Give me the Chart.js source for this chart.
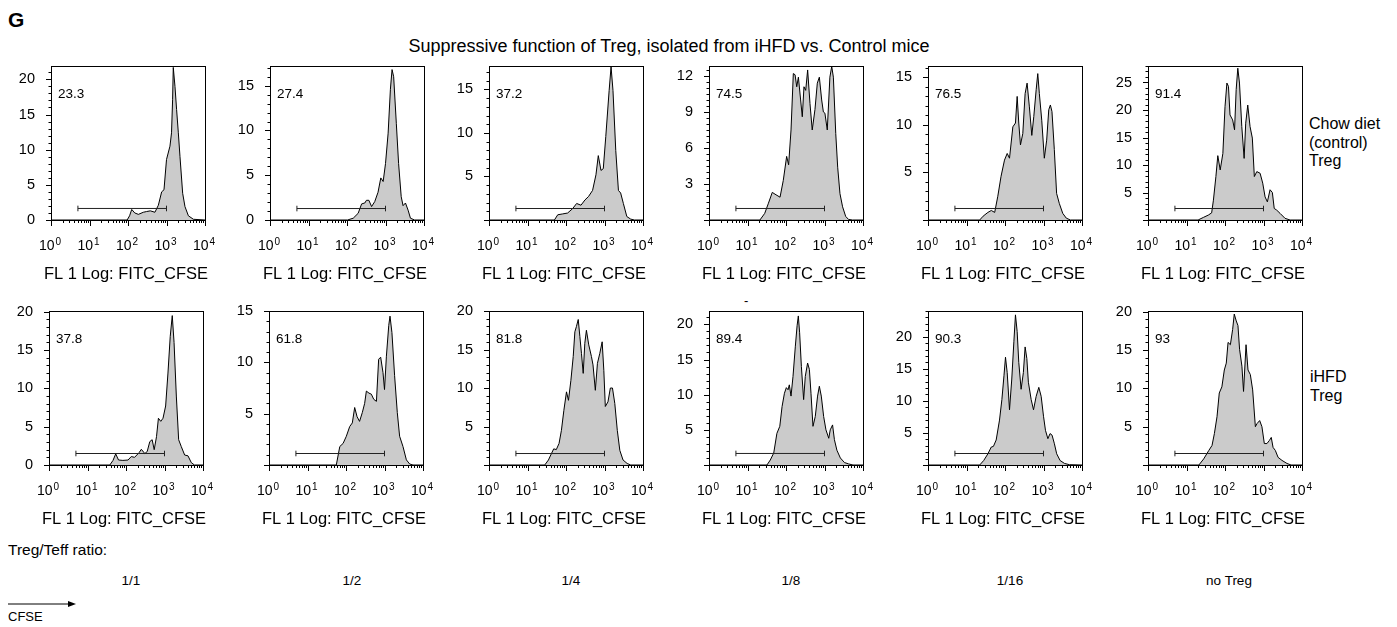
<!DOCTYPE html>
<html>
<head>
<meta charset="utf-8">
<script src="https://cdn.jsdelivr.net/npm/chart.js@4.4.1/dist/chart.umd.min.js"></script>
<style>
body { margin: 0; background: #fff; width: 1397px; height: 627px; position: relative; overflow: hidden;
       font-family: "Liberation Sans", Arial, sans-serif; color: #000; }
.t { position: absolute; white-space: nowrap; }
.c { transform: translateX(-50%); }
canvas { position: absolute; }
</style>
</head>
<body>
<div class="t" style="left:8px;top:8px;font-size:21px;font-weight:bold">G</div>
<div class="t" style="left:0;width:1338px;text-align:center;top:36px;font-size:18px">Suppressive function of Treg, isolated from iHFD vs. Control mice</div>
<div class="t" style="left:1309px;top:115px;font-size:16px;line-height:18.5px">Chow diet<br>(control)<br>Treg</div>
<div class="t" style="left:1310px;top:368px;font-size:16px;line-height:18.5px">iHFD<br>Treg</div>
<div class="t" style="left:744px;top:293px;font-size:13px">-</div>
<div class="t" style="left:8px;top:541px;font-size:15.5px">Treg/Teff ratio:</div>
<div id="ratios"></div>
<svg style="position:absolute;left:8px;top:598px" width="72" height="12">
  <line x1="0" y1="6" x2="62" y2="6" stroke="#000" stroke-width="1"/>
  <polygon points="60,3 68,6 60,9" fill="#000"/>
</svg>
<div class="t" style="left:8px;top:609px;font-size:13px">CFSE</div>

<script>
// Treg/Teff ratio columns
const ratios = ['1/1', '1/2', '1/4', '1/8', '1/16', 'no Treg'];

// % of divided cells in gate
const chowPct = ['23.3', '27.4', '37.2', '74.5', '76.5', '91.4'];
const hfdPct = ['37.8', '61.8', '81.8', '89.4', '90.3', '93'];

// y axis range (count) and major step
const chowYMax = [21.9, 17.2, 17.7, 12.83, 16.2, 28.0];
const hfdYMax = [20.1, 15.0, 20.0, 21.9, 24.0, 20.1];
const chowYStep = [5, 5, 5, 3, 5, 5];
const hfdYStep = [5, 5, 5, 5, 5, 5];
const chowZeroLabel = [true, true, false, false, false, false];
const hfdZeroLabel = [true, false, false, false, false, false];

// gate (horizontal marker) from 5 to 1000
const gateX = [5, 1000];
const chowGateY = [1.64, 1.28, 1.32, 0.96, 1.21, 2.09];
const hfdGateY = [1.5, 1.12, 1.49, 1.64, 1.79, 1.5];

// x axis ticks (log)
const xMajorTicks = [1, 10, 100, 1000, 10000];
const xTickExp = ['0', '1', '2', '3', '4'];
const xTitle = 'FL 1 Log: FITC_CFSE';

// ---- Chow diet Treg histograms ----
const chow11x = [1, 95, 110, 125, 150, 186, 250, 303, 380, 500, 615, 748, 861, 1000, 1230, 1350, 1440, 1500, 1660, 1830, 2030, 2240, 2630, 3020, 3700, 5000, 10000];
const chow11y = [0, 0, 0.6, 1.5, 1.0, 0.8, 1.1, 1.2, 1.3, 1.1, 2.1, 4.0, 4.3, 8.6, 10.5, 12.4, 17.1, 21.7, 19.0, 15.7, 12.4, 9.0, 3.8, 1.9, 0.6, 0.1, 0];
const chow12x = [1, 103, 145, 195, 240, 290, 320, 370, 435, 525, 640, 755, 870, 1000, 1170, 1340, 1480, 1630, 1910, 2190, 2560, 2860, 3300, 3860, 4450, 5700, 10000];
const chow12y = [0, 0, 0.2, 0.75, 1.8, 1.9, 2.2, 2.2, 1.5, 2.05, 3.1, 4.7, 4.3, 6.3, 9.7, 14.6, 16.8, 16.0, 10.8, 6.3, 2.6, 1.6, 1.9, 1.1, 0.2, 0, 0];
const chow14x = [1, 50, 61, 82, 110, 148, 189, 245, 310, 385, 490, 600, 690, 810, 930, 1080, 1320, 1480, 1660, 1960, 2300, 2630, 3090, 3800, 4800, 6000, 10000];
const chow14y = [0, 0, 0.6, 0.7, 0.8, 1.3, 1.9, 1.7, 2.3, 2.7, 3.4, 5.2, 7.4, 5.7, 5.9, 9.6, 14.9, 17.6, 14.9, 8.0, 3.4, 3.1, 1.9, 0.4, 0.1, 0, 0];
const chow18x = [1, 21, 28, 35, 44, 55, 70, 85, 104, 117, 135, 155, 172, 190, 210, 240, 265, 293, 325, 365, 420, 480, 565, 650, 735, 845, 935, 1025, 1180, 1380, 1540, 1700, 1960, 2200, 2520, 2950, 3550, 4200, 5300, 10000];
const chow18y = [0, 0, 0.55, 1.4, 2.3, 2.1, 1.9, 3.3, 5.3, 4.6, 7.5, 12.2, 12.1, 11.1, 11.9, 10.0, 8.6, 11.1, 10.8, 12.5, 9.7, 7.5, 9.2, 11.4, 11.9, 10.0, 9.0, 8.9, 7.5, 11.9, 12.8, 11.9, 7.2, 4.4, 2.2, 1.1, 0.3, 0.05, 0, 0];
const chow116x = [1, 22, 27, 36, 44, 54, 65, 79, 97, 114, 131, 160, 187, 207, 228, 252, 290, 333, 375, 430, 497, 560, 645, 710, 780, 900, 1050, 1210, 1370, 1510, 1660, 1910, 2190, 2570, 3160, 3900, 5000, 10000];
const chow116y = [0, 0, 0.4, 0.8, 1.0, 0.8, 2.5, 4.6, 6.3, 7.0, 6.5, 9.8, 10.2, 13.0, 10.2, 7.9, 9.1, 13.3, 14.4, 11.9, 8.9, 10.9, 13.7, 15.4, 13.3, 10.5, 6.5, 8.4, 11.6, 12.1, 11.4, 7.4, 2.8, 1.75, 0.7, 0.2, 0, 0];
const chowNoX = [1, 20, 28, 37, 45, 50, 58, 65, 75, 88, 100, 112, 123, 135, 158, 177, 195, 215, 238, 273, 314, 345, 390, 447, 513, 578, 670, 815, 955, 1100, 1260, 1480, 1700, 1900, 2200, 2700, 3630, 4900, 10000];
const chowNoY = [0, 0, 0.5, 0.9, 1.3, 3.6, 7.9, 11.7, 9.1, 12.1, 20.6, 24.9, 24.3, 19.1, 18.2, 16.4, 23.7, 27.6, 24.9, 17.0, 11.2, 17.6, 20.9, 17.0, 14.9, 7.9, 8.8, 8.5, 6.7, 4.2, 3.3, 5.5, 5.0, 2.1, 1.8, 1.2, 0.3, 0, 0];

// ---- iHFD Treg histograms ----
const hfd11x = [1, 38, 46, 54, 64, 83, 113, 137, 167, 218, 250, 308, 355, 415, 478, 540, 620, 695, 800, 915, 1070, 1230, 1410, 1590, 1770, 2030, 2330, 2730, 3340, 4070, 4980, 6000, 10000];
const hfd11y = [0, 0, 0.6, 1.45, 0.65, 0.6, 0.65, 1.1, 1.0, 1.6, 2.05, 1.5, 1.75, 3.05, 3.3, 2.0, 3.7, 6.1, 5.7, 6.1, 7.7, 12.0, 16.8, 19.5, 16.0, 9.0, 3.3, 2.4, 1.3, 1.2, 0.3, 0, 0];
const hfd12x = [1, 56, 69, 84, 102, 125, 146, 168, 194, 225, 265, 305, 338, 395, 455, 525, 617, 705, 795, 915, 1000, 1120, 1290, 1390, 1560, 1830, 2150, 2470, 3020, 3700, 4500, 5500, 10000];
const hfd12y = [0, 0, 1.8, 2.1, 2.8, 3.75, 4.1, 5.6, 4.7, 4.25, 5.1, 6.0, 7.2, 7.0, 6.9, 6.4, 6.2, 10.3, 10.5, 9.0, 7.35, 10.6, 13.6, 14.5, 12.9, 8.7, 5.1, 2.8, 1.8, 0.5, 0.1, 0, 0];
const hfd14x = [1, 28, 35, 42, 48, 56, 66, 76, 88, 103, 116, 134, 154, 170, 187, 208, 229, 252, 280, 308, 339, 390, 457, 503, 578, 655, 755, 870, 960, 1050, 1230, 1420, 1610, 1850, 2150, 2500, 3030, 3870, 4800, 10000];
const hfd14y = [0, 0, 0.65, 1.5, 2.1, 2.0, 2.8, 4.5, 7.1, 9.5, 8.4, 11.0, 14.1, 17.3, 18.0, 18.9, 16.7, 14.5, 11.9, 15.8, 17.5, 15.6, 14.1, 13.0, 9.7, 13.2, 14.5, 16.0, 12.3, 7.6, 8.2, 10.0, 10.0, 8.0, 4.5, 1.9, 0.65, 0.2, 0, 0];
const hfd18x = [1, 32, 39, 48, 58, 69, 79, 91, 102, 113, 122, 135, 152, 175, 194, 209, 226, 251, 287, 317, 364, 405, 446, 502, 576, 661, 735, 825, 950, 1090, 1290, 1410, 1620, 1810, 2100, 2580, 3300, 4250, 5500, 10000];
const hfd18y = [0, 0, 0.7, 1.7, 4.5, 5.5, 8.3, 10.2, 11.0, 10.7, 11.4, 9.8, 12.6, 16.9, 19.8, 21.2, 18.8, 14.0, 9.3, 12.6, 14.5, 13.6, 10.2, 5.5, 6.9, 9.8, 11.2, 9.8, 6.9, 5.0, 3.8, 5.0, 5.7, 3.6, 2.1, 1.0, 0.35, 0.15, 0, 0];
const hfd116x = [1, 22, 28, 36, 44, 50, 59, 72, 83, 94, 103, 114, 131, 150, 170, 187, 207, 228, 262, 300, 333, 369, 405, 478, 550, 645, 755, 870, 1000, 1125, 1300, 1480, 1670, 1920, 2200, 2700, 3500, 4700, 10000];
const hfd116y = [0, 0, 0.7, 1.75, 2.8, 2.9, 3.9, 7.0, 10.2, 13.9, 16.8, 14.4, 8.6, 13.4, 19.2, 23.4, 20.8, 16.0, 11.8, 14.4, 18.4, 16.6, 12.9, 10.2, 8.6, 10.7, 12.1, 10.7, 7.6, 5.4, 4.1, 4.9, 4.65, 3.3, 1.75, 0.7, 0.25, 0.05, 0];
const hfdNoX = [1, 21, 28, 38, 46, 53, 62, 71, 83, 96, 108, 120, 138, 158, 174, 196, 217, 239, 275, 303, 352, 396, 455, 523, 615, 678, 795, 910, 1050, 1230, 1420, 1590, 1770, 2030, 2390, 3020, 4070, 5200, 10000];
const hfdNoY = [0, 0, 0.8, 1.9, 2.55, 4.1, 6.3, 9.4, 10.2, 12.4, 13.3, 16.0, 15.7, 17.7, 19.7, 18.8, 18.2, 15.1, 12.9, 9.6, 15.7, 12.4, 11.8, 9.8, 5.0, 5.4, 5.8, 5.0, 2.8, 2.8, 3.2, 3.6, 2.3, 1.9, 1.0, 0.6, 0.2, 0, 0];

const chowSeries = [[chow11x, chow11y], [chow12x, chow12y], [chow14x, chow14y], [chow18x, chow18y], [chow116x, chow116y], [chowNoX, chowNoY]];
const hfdSeries = [[hfd11x, hfd11y], [hfd12x, hfd12y], [hfd14x, hfd14y], [hfd18x, hfd18y], [hfd116x, hfd116y], [hfdNoX, hfdNoY]];

// layout (page pixels of each plot box)
const rowTop = [66, 311];
const colLeft = [[51, 270, 489, 709, 928, 1148], [49, 269, 489, 709, 928, 1148]];
const boxSize = 154;
const padL = 50, padT = 10, padR = 24, padB = 66;
const FONT = '"Liberation Sans", Arial, sans-serif';

Chart.defaults.font.family = FONT;
Chart.defaults.color = '#000';

// all minor ticks of the log axis
const xAllTicks = [];
for (let k = 0; k < 4; k++) for (let m = 1; m < 10; m++) xAllTicks.push(m * Math.pow(10, k));
xAllTicks.push(10000);

// box, tick marks, 10^n labels, axis title and gate percentage
const frame = {
    id: 'frame',
    afterDraw(chart, args, opts) {
        const { ctx, chartArea: a, scales: { x, y } } = chart;
        ctx.save();
        ctx.strokeStyle = '#000';
        ctx.lineWidth = 1;
        ctx.strokeRect(Math.round(a.left) + 0.5, Math.round(a.top) + 0.5, Math.round(a.width), Math.round(a.height));
        ctx.beginPath();
        x.ticks.forEach(t => {
            const px = Math.round(x.getPixelForValue(t.value)) + 0.5;
            const len = xMajorTicks.includes(t.value) ? 6 : 3;
            ctx.moveTo(px, a.bottom);
            ctx.lineTo(px, a.bottom + len);
        });
        y.ticks.forEach(t => {
            const py = Math.round(y.getPixelForValue(t.value)) + 0.5;
            const r = t.value / opts.major;
            const len = Math.abs(r - Math.round(r)) < 1e-6 ? 5 : 2.5;
            ctx.moveTo(a.left, py);
            ctx.lineTo(a.left - len, py);
        });
        ctx.stroke();

        ctx.fillStyle = '#000';
        ctx.textBaseline = 'alphabetic';
        ctx.textAlign = 'left';
        xMajorTicks.forEach((v, i) => {
            const px = x.getPixelForValue(v);
            ctx.font = '14px ' + FONT;
            const w1 = ctx.measureText('10').width;
            ctx.font = '10px ' + FONT;
            const w2 = ctx.measureText(xTickExp[i]).width;
            const sx = px - (w1 + w2 + 1) / 2 - 1;
            ctx.font = '14px ' + FONT;
            ctx.fillText('10', sx, a.bottom + 30);
            ctx.font = '10px ' + FONT;
            ctx.fillText(xTickExp[i], sx + w1 + 1, a.bottom + 25);
        });

        ctx.font = '16.5px ' + FONT;
        ctx.textAlign = 'center';
        ctx.fillText(xTitle, (a.left + a.right) / 2 - 2, a.bottom + 59);

        ctx.font = '13.5px ' + FONT;
        ctx.textAlign = 'left';
        ctx.textBaseline = 'middle';
        ctx.fillText(opts.pct, a.left + 7, a.top + 28);
        ctx.restore();
    }
};

function makePanel(row, col, series, yMax, yStep, zeroLabel, gateY, pct) {
    const left = colLeft[row][col], top = rowTop[row];
    const cv = document.createElement('canvas');
    cv.width = padL + boxSize + padR;
    cv.height = padT + boxSize + padB;
    cv.style.left = (left - padL) + 'px';
    cv.style.top = (top - padT) + 'px';
    document.body.appendChild(cv);

    const minor = yStep === 3 ? 0.5 : 1;
    const yTicks = [];
    for (let i = 0; i * minor <= yMax + 1e-9; i++) yTicks.push(Math.round(i * minor * 100) / 100);

    const [xs, ys] = series;
    new Chart(cv, {
        type: 'line',
        data: {
            datasets: [
                {
                    data: gateX.map(v => ({ x: v, y: gateY })),
                    borderColor: '#222',
                    borderWidth: 1,
                    pointStyle: 'line',
                    rotation: 90,
                    pointRadius: 2.8,
                    pointBorderColor: '#222',
                    pointBorderWidth: 1,
                    fill: false,
                    order: 0
                },
                {
                    data: xs.map((v, i) => ({ x: v, y: ys[i] })),
                    borderColor: '#000',
                    borderWidth: 1,
                    backgroundColor: '#cbcbcb',
                    fill: 'origin',
                    pointRadius: 0,
                    tension: 0,
                    order: 1
                }
            ]
        },
        options: {
            responsive: false,
            animation: false,
            devicePixelRatio: 1,
            layout: { padding: { left: 0, top: padT, right: padR, bottom: 0 } },
            plugins: {
                legend: { display: false },
                tooltip: { enabled: false },
                frame: { pct: pct, major: yStep }
            },
            scales: {
                x: {
                    type: 'logarithmic',
                    min: 1,
                    max: 10000,
                    grid: { display: false, drawTicks: false },
                    border: { display: false },
                    afterBuildTicks: s => { s.ticks = xAllTicks.map(v => ({ value: v })); },
                    afterFit: s => { s.height = padB; s.paddingLeft = 0; s.paddingRight = 0; },
                    ticks: {
                        autoSkip: false,
                        maxRotation: 0,
                        callback: () => ''
                    }
                },
                y: {
                    type: 'linear',
                    min: 0,
                    max: yMax,
                    grid: { display: false, drawTicks: false },
                    border: { display: false },
                    afterBuildTicks: s => { s.ticks = yTicks.map(v => ({ value: v })); },
                    afterFit: s => { s.width = padL; s.paddingTop = 0; s.paddingBottom = 0; },
                    ticks: {
                        autoSkip: false,
                        padding: 16,
                        font: { size: 14.5 },
                        callback: v => {
                            const r = v / yStep;
                            if (Math.abs(r - Math.round(r)) > 1e-6) return '';
                            if (v === 0 && !zeroLabel) return '';
                            return String(v);
                        }
                    }
                }
            }
        },
        plugins: [frame]
    });
}

for (let c = 0; c < 6; c++) {
    makePanel(0, c, chowSeries[c], chowYMax[c], chowYStep[c], chowZeroLabel[c], chowGateY[c], chowPct[c]);
    makePanel(1, c, hfdSeries[c], hfdYMax[c], hfdYStep[c], hfdZeroLabel[c], hfdGateY[c], hfdPct[c]);
}

// ratio labels under the columns
const ratioCenter = [131, 352, 571, 791, 1010, 1229];
const rdiv = document.getElementById('ratios');
ratios.forEach((r, i) => {
    const d = document.createElement('div');
    d.className = 't c';
    d.style.left = ratioCenter[i] + 'px';
    d.style.top = '573px';
    d.style.fontSize = '13.5px';
    d.textContent = r;
    rdiv.appendChild(d);
});
</script>
</body>
</html>
